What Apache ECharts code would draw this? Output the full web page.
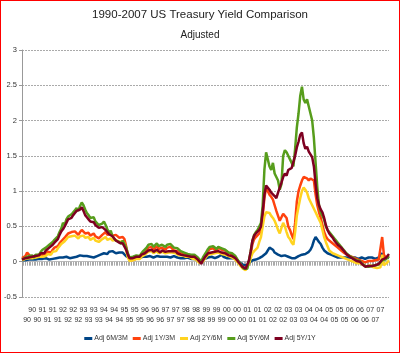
<!DOCTYPE html>
<html><head><meta charset="utf-8">
<script src="https://cdn.jsdelivr.net/npm/echarts@6/dist/echarts.min.js"></script>
<style>
html,body{margin:0;padding:0;background:#fff;}
#wrap{position:relative;width:400px;height:354px;}
#c{width:400px;height:354px;}
#frame{position:absolute;left:0;top:0;width:400px;height:353px;box-sizing:border-box;border:1px solid #f00;pointer-events:none;}
</style></head>
<body>
<div id="wrap"><div id="c"></div><div id="frame"></div></div>
<script>
var years = ['90','91','92','93','94','95','96','97','98','99','00','01','02','03','04','05','06','07'];
var months = ['01','02','03','04','05','06','07','08','09','10','11','12'];
var seriesNames = ['Adj 6M/3M','Adj 1Y/3M','Adj 2Y/6M','Adj 5Y/6M','Adj 5Y/1Y'];
var colors = ['#004586','#ff420e','#ffd320','#579d1c','#7e0021'];
var yTicks = { min: -0.5, max: 3, interval: 0.5 };

// monthly values, 1990-01 .. 2007-12
var adj6M3M = [
 0.02,0.03,0.02,0.04,0.03,0.02,0.03,0.04,0.03,0.05,0.04,0.05,
 0.04,0.03,0.05,0.04,0.03,0.05,0.04,0.06,0.05,0.04,0.06,0.05,
 0.06,0.05,0.07,0.06,0.05,0.07,0.06,0.08,0.07,0.06,0.09,0.10,
 0.08,0.07,0.08,0.06,0.07,0.08,0.06,0.07,0.08,0.09,0.10,0.11,
 0.12,0.13,0.11,0.14,0.13,0.15,0.14,0.12,0.14,0.13,0.15,0.13,
 0.11,0.08,0.06,0.05,0.04,0.06,0.05,0.04,0.05,0.06,0.05,0.07,
 0.06,0.07,0.06,0.08,0.07,0.06,0.07,0.08,0.06,0.07,0.06,0.07,
 0.08,0.07,0.08,0.06,0.07,0.08,0.07,0.06,0.07,0.05,0.06,0.05,
 0.05,0.06,0.05,0.04,0.05,0.04,0.03,0.02,0.01,0.00,0.02,0.04,
 0.05,0.06,0.05,0.07,0.06,0.05,0.06,0.07,0.08,0.10,0.07,0.06,
 0.05,0.06,0.05,0.04,0.05,0.03,0.02,0.00,-0.02,-0.04,-0.05,-0.06,
 -0.05,-0.02,0.00,0.02,0.01,0.03,0.04,0.05,0.06,0.08,0.10,0.12,
 0.14,0.20,0.21,0.17,0.13,0.12,0.10,0.09,0.08,0.10,0.09,0.08,
 0.07,0.06,0.05,0.06,0.05,0.07,0.08,0.09,0.10,0.12,0.11,0.13,
 0.14,0.17,0.22,0.30,0.35,0.33,0.28,0.25,0.20,0.16,0.14,0.12,
 0.11,0.10,0.09,0.08,0.07,0.06,0.07,0.06,0.05,0.06,0.05,0.06,
 0.05,0.06,0.05,0.06,0.05,0.04,0.05,0.06,0.05,0.04,0.05,0.06,
 0.05,0.06,0.05,0.04,0.05,0.06,0.07,0.12,0.05,0.04,0.06,0.05
];
var adj1Y3M = [
 0.05,0.06,0.08,0.13,0.10,0.07,0.08,0.06,0.09,0.08,0.10,0.11,
 0.10,0.12,0.11,0.14,0.15,0.13,0.17,0.20,0.18,0.22,0.26,0.29,
 0.31,0.34,0.37,0.40,0.38,0.42,0.40,0.43,0.41,0.38,0.42,0.45,
 0.44,0.40,0.38,0.41,0.37,0.39,0.40,0.36,0.35,0.33,0.35,0.38,
 0.40,0.42,0.38,0.36,0.40,0.37,0.35,0.38,0.36,0.34,0.33,0.35,
 0.32,0.22,0.10,0.05,0.02,0.04,0.03,0.06,0.08,0.07,0.10,0.13,
 0.14,0.17,0.20,0.18,0.21,0.17,0.19,0.22,0.18,0.16,0.20,0.18,
 0.17,0.20,0.18,0.21,0.19,0.16,0.18,0.15,0.13,0.12,0.13,0.10,
 0.10,0.09,0.10,0.08,0.07,0.08,0.06,0.04,0.01,-0.02,0.04,0.08,
 0.12,0.15,0.18,0.16,0.19,0.17,0.15,0.20,0.18,0.17,0.19,0.16,
 0.14,0.12,0.13,0.11,0.09,0.07,0.03,-0.01,-0.04,-0.07,-0.09,-0.10,
 -0.08,0.00,0.12,0.25,0.32,0.35,0.37,0.40,0.45,0.65,0.90,1.05,
 1.00,0.95,0.92,0.88,0.80,0.72,0.65,0.58,0.60,0.68,0.70,0.62,
 0.50,0.45,0.38,0.32,0.55,0.85,1.00,1.08,1.15,1.20,1.22,1.18,
 1.15,1.18,1.20,1.15,0.95,0.80,0.70,0.62,0.52,0.42,0.36,0.32,
 0.30,0.28,0.26,0.24,0.22,0.20,0.18,0.16,0.14,0.12,0.10,0.09,
 0.08,0.07,0.06,0.05,0.04,0.03,0.03,0.01,0.00,-0.01,0.00,0.01,
 0.00,0.01,-0.01,0.02,0.00,0.03,0.05,0.35,0.10,0.06,0.04,0.07
];
var adj2Y6M = [
 0.02,0.03,0.04,0.03,0.05,0.04,0.05,0.03,0.06,0.05,0.07,0.08,
 0.07,0.09,0.08,0.11,0.12,0.10,0.14,0.16,0.15,0.19,0.22,0.25,
 0.27,0.29,0.32,0.35,0.33,0.36,0.34,0.37,0.35,0.33,0.36,0.38,
 0.37,0.34,0.32,0.35,0.31,0.33,0.34,0.30,0.29,0.28,0.30,0.32,
 0.33,0.35,0.31,0.30,0.33,0.30,0.29,0.31,0.30,0.28,0.27,0.29,
 0.26,0.16,0.06,0.01,-0.01,0.02,0.01,0.04,0.05,0.04,0.07,0.09,
 0.10,0.12,0.14,0.13,0.15,0.12,0.13,0.15,0.12,0.11,0.14,0.12,
 0.12,0.14,0.13,0.15,0.13,0.11,0.12,0.10,0.09,0.08,0.09,0.07,
 0.07,0.06,0.07,0.05,0.04,0.05,0.03,0.01,-0.02,-0.04,0.00,0.04,
 0.07,0.10,0.12,0.11,0.13,0.12,0.10,0.13,0.12,0.11,0.12,0.10,
 0.09,0.08,0.08,0.06,0.04,0.03,0.00,-0.03,-0.06,-0.09,-0.11,-0.12,
 -0.10,-0.03,0.05,0.12,0.15,0.14,0.20,0.28,0.35,0.50,0.64,0.70,
 0.68,0.69,0.65,0.62,0.58,0.52,0.45,0.40,0.48,0.55,0.50,0.42,
 0.35,0.32,0.27,0.24,0.42,0.65,0.78,0.90,1.00,1.05,1.02,0.98,
 0.90,0.88,0.80,0.75,0.70,0.65,0.60,0.55,0.45,0.35,0.28,0.22,
 0.16,0.14,0.12,0.11,0.10,0.09,0.08,0.07,0.06,0.05,0.04,0.03,
 0.02,0.01,0.00,-0.01,-0.02,-0.03,-0.02,-0.04,-0.05,-0.06,-0.07,-0.06,
 -0.05,-0.07,-0.08,-0.06,-0.09,-0.10,-0.08,0.10,-0.05,-0.03,-0.01,0.02
];
var adj5Y6M = [
 0.03,0.05,0.06,0.04,0.08,0.07,0.09,0.06,0.10,0.12,0.10,0.14,
 0.17,0.15,0.20,0.18,0.24,0.22,0.28,0.31,0.29,0.36,0.42,0.47,
 0.55,0.52,0.60,0.64,0.62,0.67,0.70,0.73,0.76,0.72,0.79,0.84,
 0.80,0.74,0.69,0.66,0.62,0.60,0.63,0.57,0.55,0.52,0.50,0.54,
 0.57,0.52,0.46,0.41,0.44,0.36,0.33,0.30,0.32,0.28,0.25,0.30,
 0.30,0.20,0.12,0.06,0.04,0.07,0.05,0.09,0.10,0.08,0.12,0.15,
 0.16,0.20,0.24,0.22,0.25,0.21,0.23,0.26,0.22,0.20,0.24,0.22,
 0.21,0.24,0.22,0.25,0.23,0.20,0.22,0.19,0.17,0.15,0.16,0.13,
 0.13,0.11,0.12,0.10,0.09,0.10,0.08,0.06,0.03,0.00,0.06,0.10,
 0.14,0.18,0.21,0.19,0.22,0.20,0.18,0.21,0.20,0.19,0.20,0.17,
 0.15,0.13,0.14,0.12,0.10,0.08,0.04,0.00,-0.03,-0.07,-0.10,-0.12,
 -0.10,0.02,0.15,0.30,0.38,0.42,0.45,0.50,0.55,0.80,1.30,1.55,
 1.45,1.35,1.30,1.40,1.25,1.20,1.15,1.02,1.10,1.50,1.58,1.55,
 1.54,1.45,1.40,1.35,1.60,1.90,2.10,2.35,2.48,2.30,2.25,2.30,
 2.20,2.10,2.00,1.75,1.40,1.05,0.80,0.70,0.68,0.60,0.50,0.45,
 0.42,0.40,0.36,0.33,0.30,0.27,0.24,0.22,0.18,0.15,0.12,0.10,
 0.08,0.06,0.05,0.04,0.02,0.00,0.01,-0.02,-0.04,-0.06,-0.08,-0.07,
 -0.05,-0.06,-0.08,-0.05,-0.07,-0.04,-0.02,0.02,0.00,0.03,0.05,0.08
];
var adj5Y1Y = [
 0.03,0.04,0.05,0.04,0.06,0.05,0.07,0.05,0.08,0.10,0.09,0.12,
 0.13,0.12,0.16,0.15,0.20,0.19,0.24,0.27,0.26,0.32,0.38,0.43,
 0.46,0.50,0.55,0.60,0.58,0.62,0.66,0.69,0.72,0.70,0.74,0.77,
 0.72,0.66,0.63,0.60,0.57,0.55,0.56,0.52,0.50,0.48,0.46,0.49,
 0.48,0.45,0.42,0.39,0.40,0.36,0.33,0.30,0.29,0.27,0.25,0.26,
 0.25,0.17,0.10,0.05,0.03,0.05,0.04,0.07,0.08,0.07,0.10,0.12,
 0.12,0.14,0.16,0.15,0.17,0.14,0.15,0.17,0.15,0.13,0.16,0.14,
 0.14,0.16,0.15,0.17,0.15,0.13,0.15,0.12,0.11,0.10,0.11,0.09,
 0.09,0.08,0.09,0.07,0.06,0.07,0.05,0.03,0.00,-0.03,0.02,0.06,
 0.09,0.12,0.14,0.13,0.15,0.14,0.12,0.15,0.14,0.13,0.14,0.12,
 0.11,0.09,0.10,0.08,0.06,0.05,0.02,-0.01,-0.04,-0.07,-0.09,-0.10,
 -0.08,0.02,0.15,0.30,0.37,0.40,0.42,0.45,0.50,0.70,0.95,1.08,
 1.08,1.02,0.98,1.00,0.93,0.90,0.98,1.05,1.12,1.20,1.25,1.22,
 1.30,1.28,1.33,1.35,1.50,1.62,1.70,1.80,1.83,1.68,1.60,1.63,
 1.56,1.52,1.48,1.35,1.10,0.90,0.80,0.74,0.70,0.62,0.52,0.45,
 0.40,0.37,0.34,0.30,0.27,0.24,0.22,0.20,0.17,0.14,0.11,0.09,
 0.07,0.05,0.04,0.02,0.01,-0.01,0.00,-0.03,-0.05,-0.07,-0.08,-0.06,
 -0.04,-0.06,-0.07,-0.05,-0.06,-0.03,-0.02,0.03,0.02,0.05,0.07,0.11
];

var seriesData = [adj6M3M, adj1Y3M, adj2Y6M, adj5Y6M, adj5Y1Y];

var categories = [];
years.forEach(function (y) { months.forEach(function (m) { categories.push(y + '-' + m); }); });

var chart = echarts.init(document.getElementById('c'), null, { renderer: 'canvas' });
var font = 'Liberation Sans, Arial, sans-serif';
chart.setOption({
  animation: false,
  backgroundColor: '#fff',
  color: colors,
  title: [
    { text: '1990-2007 US Treasury Yield Comparison', left: 'center', top: 4,
      textStyle: { fontFamily: font, fontSize: 11.5, fontWeight: 'normal', color: '#222' } },
    { text: 'Adjusted', left: 'center', top: 25,
      textStyle: { fontFamily: font, fontSize: 10, fontWeight: 'normal', color: '#222' } }
  ],
  legend: {
    bottom: 7, left: 'center', itemWidth: 8, itemHeight: 3, itemGap: 5,
    icon: 'rect',
    textStyle: { fontFamily: font, fontSize: 7, color: '#333', padding: [0, 0, 0, -3] },
    data: seriesNames
  },
  grid: { left: 22, right: 11, top: 50, bottom: 57, containLabel: false },
  xAxis: {
    type: 'category', data: categories, boundaryGap: false,
    axisLine: { show: true, lineStyle: { color: '#bbb', width: 1 } },
    axisTick: { show: true, interval: 0, length: 4, lineStyle: { color: '#aaa' } },
    axisLabel: {
      interval: 2, fontFamily: font, fontSize: 7, color: '#333', margin: 8, lineHeight: 10,
      hideOverlap: false,
      formatter: function (v) {
        var yy = v.slice(0, 2);
        var mi = parseInt(v.slice(3), 10) - 1;
        return (Math.floor(mi / 3) % 2 === 1) ? '\n' + yy : yy;
      }
    },
    splitLine: { show: false }
  },
  yAxis: {
    type: 'value', min: yTicks.min, max: yTicks.max, interval: yTicks.interval,
    axisLine: { show: true, lineStyle: { color: '#999' } },
    axisTick: { show: true, length: 3, lineStyle: { color: '#999' } },
    axisLabel: { fontFamily: font, fontSize: 7.5, color: '#333', margin: 5 },
    splitLine: { show: true, lineStyle: { color: '#aaa', type: [2, 1], width: 1 } }
  },
  series: seriesNames.map(function (n, i) {
    return { name: n, type: 'line', data: seriesData[i], symbol: 'none',
      lineStyle: { width: 2.5, color: colors[i] }, itemStyle: { color: colors[i] } };
  })
});
</script>
</body></html>
